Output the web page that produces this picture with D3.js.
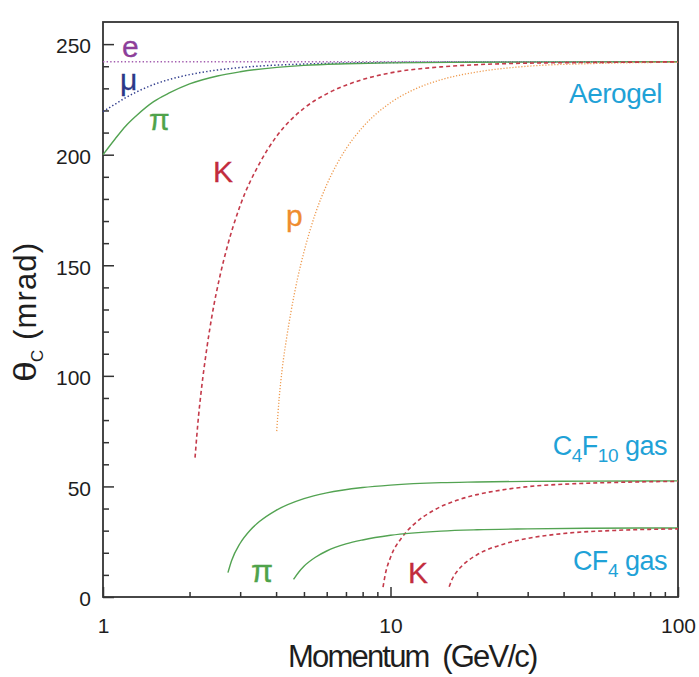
<!DOCTYPE html>
<html>
<head>
<meta charset="utf-8">
<script src="https://cdn.jsdelivr.net/npm/d3@7"></script>
<style>
  html, body { margin: 0; padding: 0; background: #fff; }
  svg { display: block; font-family: "Liberation Sans", Arial, Helvetica, sans-serif; }
</style>
</head>
<body>
<svg id="chart" width="699" height="677"></svg>
<script>
// Cherenkov angle (mrad) versus momentum (GeV/c) for the three RICH radiators.

// Axis ticks
const yMajorTicks = [0, 50, 100, 150, 200, 250];
const yMinorTicks = [10, 20, 30, 40, 60, 70, 80, 90, 110, 120, 130, 140, 160, 170, 180, 190, 210, 220, 230, 240];
const xMajorTicks = [1, 10, 100];
const xMinorTicks = [2, 3, 4, 5, 6, 7, 8, 9, 20, 30, 40, 50, 60, 70, 80, 90];
const xTickLabels = ["1", "10", "100"];

// Aerogel radiator
const aeroElectronP     = [1, 100];
const aeroElectronTheta = [242, 242];

const aeroMuonP     = [1, 1.1, 1.2, 1.3, 1.5, 1.7, 2, 2.5, 3, 5, 10, 20, 100];
const aeroMuonTheta = [219.5, 222.8, 225.8, 228.2, 231.7, 234.0, 236.2, 238.3, 239.4, 241.0, 241.7, 241.9, 242];

const aeroPionP     = [1, 1.1, 1.2, 1.3, 1.5, 1.7, 2, 2.5, 3, 5, 7, 10, 20, 100];
const aeroPionTheta = [200, 207, 213, 217.4, 224, 227.9, 232, 235.6, 237.5, 240.4, 241.1, 241.5, 241.8, 242];

const aeroKaonP     = [2.09, 2.15, 2.2, 2.3, 2.4, 2.55, 2.7, 3, 3.5, 4, 5, 6, 8, 10, 15, 20, 30, 50, 100];
const aeroKaonTheta = [63, 82, 94, 113, 128, 145, 158, 177, 196, 208, 221, 227.5, 234, 237, 239.7, 240.7, 241.4, 241.7, 242];

const aeroProtonP     = [4.02, 4.1, 4.2, 4.35, 4.5, 4.75, 5, 5.5, 6, 7, 8, 10, 12, 15, 20, 30, 50, 100];
const aeroProtonTheta = [75, 90, 103, 117, 128.5, 144, 156, 174, 186.4, 202.6, 212.4, 223.5, 229.3, 233.9, 237.4, 240, 241.2, 241.8];

// C4F10 gas radiator
const c4f10PionP     = [2.72, 2.8, 3, 3.25, 3.5, 4, 5, 6, 8, 10, 15, 20, 30, 50, 100];
const c4f10PionTheta = [11, 16.4, 24.3, 30.2, 34.1, 39.2, 44.5, 47.1, 49.5, 50.6, 51.7, 52.0, 52.3, 52.4, 52.5];

const c4f10KaonP     = [9.42, 9.6, 10, 11, 12, 14, 17, 20, 25, 30, 40, 60, 100];
const c4f10KaonTheta = [4.5, 10.5, 17.9, 27.2, 32.6, 38.9, 43.7, 46.3, 48.6, 49.9, 51.0, 51.8, 52.3];

// CF4 gas radiator
const cf4PionP     = [4.6, 4.8, 5, 5.5, 6, 7, 8, 10, 15, 20, 30, 50, 100];
const cf4PionTheta = [8, 11.3, 13.9, 18.1, 20.8, 24.0, 25.8, 27.9, 29.8, 30.4, 30.8, 31.1, 31.2];

const cf4KaonP     = [16, 16.4, 17, 18, 20, 25, 30, 40, 60, 100];
const cf4KaonTheta = [4.6, 8.2, 11.4, 14.9, 19.1, 24.1, 26.5, 28.7, 30.1, 30.8];

// Line styles per particle
const styles = {
  e:  { stroke: "#a45fb0", width: 1.6, dash: "1.4,2.2" },
  mu: { stroke: "#34408f", width: 1.5, dash: "1.4,2.2" },
  pi: { stroke: "#53a352", width: 1.4, dash: null },
  K:  { stroke: "#c43a4a", width: 1.6, dash: "4,3" },
  p:  { stroke: "#ee9a4e", width: 1.3, dash: "1.2,1.8" }
};

const series = [
  { p: aeroElectronP, t: aeroElectronTheta, s: "e" },
  { p: aeroMuonP,     t: aeroMuonTheta,     s: "mu" },
  { p: aeroPionP,     t: aeroPionTheta,     s: "pi" },
  { p: aeroProtonP,   t: aeroProtonTheta,   s: "p" },
  { p: aeroKaonP,     t: aeroKaonTheta,     s: "K" },
  { p: c4f10PionP,    t: c4f10PionTheta,    s: "pi" },
  { p: c4f10KaonP,    t: c4f10KaonTheta,    s: "K" },
  { p: cf4PionP,      t: cf4PionTheta,      s: "pi" },
  { p: cf4KaonP,      t: cf4KaonTheta,      s: "K" }
];

const plot = { left: 103, right: 678, top: 22, bottom: 597 };
const svg = d3.select("#chart");

const x = d3.scaleLog().domain([1, 100]).range([plot.left, plot.right]);
const y = d3.scaleLinear().domain([0, 260]).range([plot.bottom, plot.top]);

const axisColor = "#333";
const fontTick = 21;

// Minor ticks (inward, no labels)
svg.append("g")
  .attr("transform", `translate(${plot.left},0)`)
  .call(d3.axisLeft(y).tickValues(yMinorTicks).tickSizeInner(-6).tickSizeOuter(0).tickFormat(""))
  .call(g => g.select(".domain").remove())
  .call(g => g.selectAll("line").attr("stroke", axisColor).attr("stroke-width", 1.5));

svg.append("g")
  .attr("transform", `translate(0,${plot.bottom})`)
  .call(d3.axisBottom(x).tickValues(xMinorTicks).tickSizeInner(-5).tickSizeOuter(0).tickFormat(""))
  .call(g => g.select(".domain").remove())
  .call(g => g.selectAll("line").attr("stroke", axisColor).attr("stroke-width", 1.5));

// Major ticks with labels
svg.append("g")
  .attr("transform", `translate(${plot.left},0)`)
  .call(d3.axisLeft(y).tickValues(yMajorTicks).tickSizeInner(-11).tickSizeOuter(0).tickPadding(12).tickFormat(d3.format("d")))
  .call(g => g.select(".domain").remove())
  .call(g => g.selectAll("line").attr("stroke", axisColor).attr("stroke-width", 1.5))
  .call(g => g.selectAll("text")
    .attr("font-size", fontTick).attr("fill", "#1e1e1e").attr("dy", "0.42em")
    .attr("font-family", "'Liberation Sans', Arial, sans-serif"));

svg.append("g")
  .attr("transform", `translate(0,${plot.bottom})`)
  .call(d3.axisBottom(x).tickValues(xMajorTicks).tickSizeInner(-10).tickSizeOuter(0).tickPadding(21)
    .tickFormat((d, i) => xTickLabels[i]))
  .call(g => g.select(".domain").remove())
  .call(g => g.selectAll("line").attr("stroke", axisColor).attr("stroke-width", 1.5))
  .call(g => g.selectAll("text")
    .attr("font-size", fontTick).attr("fill", "#1e1e1e")
    .attr("font-family", "'Liberation Sans', Arial, sans-serif"));

// Plot frame
svg.append("rect")
  .attr("x", plot.left).attr("y", plot.top)
  .attr("width", plot.right - plot.left).attr("height", plot.bottom - plot.top)
  .attr("fill", "none").attr("stroke", axisColor).attr("stroke-width", 1.8);

// Curves
const line = d3.line()
  .x(d => x(d[0]))
  .y(d => y(d[1]))
  .curve(d3.curveMonotoneX);

const curves = svg.append("g");
series.forEach(sr => {
  const st = styles[sr.s];
  const pts = sr.p.map((v, i) => [v, sr.t[i]]);
  curves.append("path")
    .datum(pts)
    .attr("d", line)
    .attr("fill", "none")
    .attr("stroke", st.stroke)
    .attr("stroke-width", st.width)
    .attr("stroke-dasharray", st.dash);
});

// Particle labels
const particleLabels = [
  { text: "e", x: 122, y: 57, color: "#8d3f9a", size: 30 },
  { text: "μ", x: 120, y: 90, color: "#2c3888", size: 30 },
  { text: "π", x: 149, y: 130, color: "#4fa34b", size: 30 },
  { text: "K", x: 213, y: 182, color: "#c22c3c", size: 30 },
  { text: "p", x: 286, y: 226, color: "#ef8c2e", size: 30 },
  { text: "π", x: 251, y: 582, color: "#4fa34b", size: 32 },
  { text: "K", x: 408, y: 583, color: "#c22c3c", size: 30 }
];
svg.append("g").selectAll("text")
  .data(particleLabels)
  .join("text")
  .attr("x", d => d.x).attr("y", d => d.y)
  .attr("fill", d => d.color)
  .attr("font-size", d => d.size)
  .attr("stroke", d => d.color).attr("stroke-width", 0.3)
  .text(d => d.text);

// Radiator labels
const cyan = "#1fa2d7";
svg.append("text")
  .attr("x", 662).attr("y", 103).attr("text-anchor", "end")
  .attr("font-size", 28).attr("fill", cyan).attr("letter-spacing", -0.5)
  .text("Aerogel");

const c4 = svg.append("text")
  .attr("x", 667).attr("y", 455).attr("text-anchor", "end")
  .attr("font-size", 27).attr("fill", cyan).attr("letter-spacing", -0.5);
c4.append("tspan").text("C");
c4.append("tspan").attr("font-size", 19).attr("dy", 7).text("4");
c4.append("tspan").attr("dy", -7).text("F");
c4.append("tspan").attr("font-size", 19).attr("dy", 7).text("10");
c4.append("tspan").attr("dy", -7).text(" gas");

const cf = svg.append("text")
  .attr("x", 667).attr("y", 570).attr("text-anchor", "end")
  .attr("font-size", 27).attr("fill", cyan).attr("letter-spacing", -0.5);
cf.append("tspan").text("CF");
cf.append("tspan").attr("font-size", 19).attr("dy", 7).text("4");
cf.append("tspan").attr("dy", -7).text(" gas");

// Axis titles
svg.append("text")
  .attr("x", 288).attr("y", 667).attr("text-anchor", "start")
  .attr("font-size", 31).attr("fill", "#1e1e1e")
  .style("white-space", "pre")
  .attr("letter-spacing", -1.8)
  .text("Momentum  (GeV/c)");

const yTitle = svg.append("g").attr("transform", "translate(36,382) rotate(-90)");
yTitle.append("text")
  .attr("x", 0).attr("y", 0).attr("font-size", 31).attr("fill", "#1e1e1e")
  .attr("textLength", 21).attr("lengthAdjust", "spacingAndGlyphs")
  .text("θ");
yTitle.append("text")
  .attr("x", 20).attr("y", 7).attr("font-size", 17).attr("fill", "#1e1e1e")
  .text("C");
yTitle.append("text")
  .attr("x", 42).attr("y", 0).attr("font-size", 31).attr("fill", "#1e1e1e")
  .attr("textLength", 97).attr("lengthAdjust", "spacing")
  .text("(mrad)");
</script>
</body>
</html>
